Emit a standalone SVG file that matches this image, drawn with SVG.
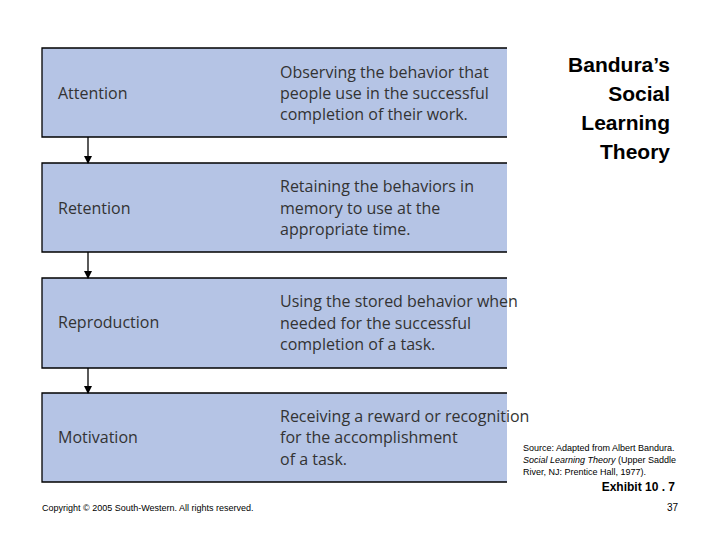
<svg xmlns="http://www.w3.org/2000/svg" width="720" height="540" viewBox="0 0 720 540">
<style>
.box{fill:#b5c4e5}
.edge{fill:none;stroke:#000;stroke-width:1.3}
.lab{font-family:"Open Sans","Liberation Sans",sans-serif;font-size:16px;fill:#333}
.title{font-family:"Liberation Sans",Arial,sans-serif;font-size:21px;font-weight:bold;fill:#000;text-anchor:end}
.small{font-family:"Liberation Sans",Arial,sans-serif;font-size:9px;fill:#000}
</style>
<defs><marker id="ah" markerWidth="8" markerHeight="8" refX="7" refY="4" orient="auto" markerUnits="userSpaceOnUse"><path d="M0,0L8,4L0,8z" fill="#000"/></marker></defs>
<rect width="720" height="540" fill="#fff"/>
<g id="attention"><rect class="box" x="42" y="48" width="465" height="89"/><path class="edge" d="M507,48H42V137H507"/>
<text class="lab" x="58" y="99">Attention</text>
<text class="lab" x="280" y="78">Observing the behavior that</text><text class="lab" x="280" y="99">people use in the successful</text><text class="lab" x="280" y="120">completion of their work.</text></g>
<g id="retention"><rect class="box" x="42" y="163" width="465" height="89"/><path class="edge" d="M507,163H42V252H507"/>
<text class="lab" x="58" y="214">Retention</text>
<text class="lab" x="280" y="192">Retaining the behaviors in</text><text class="lab" x="280" y="214">memory to use at the</text><text class="lab" x="280" y="235">appropriate time.</text></g>
<g id="reproduction"><rect class="box" x="42" y="278" width="465" height="90"/><path class="edge" d="M507,278H42V368H507"/>
<text class="lab" x="58" y="328">Reproduction</text>
<text class="lab" x="280" y="307">Using the stored behavior when</text><text class="lab" x="280" y="329">needed for the successful</text><text class="lab" x="280" y="350">completion of a task.</text></g>
<g id="motivation"><rect class="box" x="42" y="393" width="465" height="89"/><path class="edge" d="M507,393H42V482H507"/>
<text class="lab" x="58" y="443">Motivation</text>
<text class="lab" x="280" y="422">Receiving a reward or recognition</text><text class="lab" x="280" y="443">for the accomplishment</text><text class="lab" x="280" y="465">of a task.</text></g>
<g id="connectors" stroke="#000" stroke-width="1.3">
<line x1="88" y1="137" x2="88" y2="163" marker-end="url(#ah)"/>
<line x1="88" y1="252" x2="88" y2="278" marker-end="url(#ah)"/>
<line x1="88" y1="368" x2="88" y2="393" marker-end="url(#ah)"/>
</g>
<g id="title"><text class="title" x="670" y="72">Bandura’s</text><text class="title" x="670" y="101">Social</text><text class="title" x="670" y="130">Learning</text><text class="title" x="670" y="159">Theory</text></g>
<text class="small" x="523" y="451">Source: Adapted from Albert Bandura.</text>
<text class="small" x="523" y="463"><tspan font-style="italic">Social Learning Theory</tspan> (Upper Saddle</text>
<text class="small" x="523" y="475">River, NJ: Prentice Hall, 1977).</text>
<text x="675" y="491" font-family="Liberation Sans,Arial,sans-serif" font-size="12" font-weight="bold" text-anchor="end">Exhibit 10 . 7</text>
<text x="42" y="511" font-family="Liberation Sans,Arial,sans-serif" font-size="9">Copyright © 2005 South-Western. All rights reserved.</text>
<text x="678" y="511" font-family="Liberation Sans,Arial,sans-serif" font-size="10" text-anchor="end">37</text>
</svg>
